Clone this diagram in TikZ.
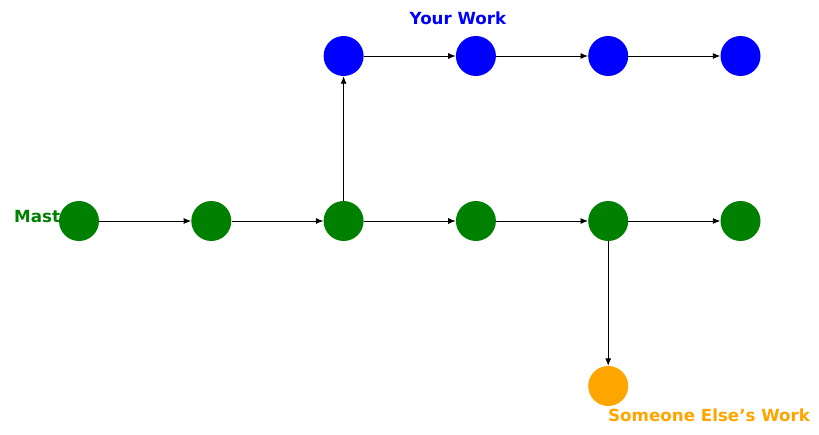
\documentclass[tikz,border=0pt]{standalone}
\usepackage{fontspec}
\setmainfont{DejaVu Sans}
\usetikzlibrary{positioning,arrows.meta}
\definecolor{WorkBlue}{HTML}{0000FF}
\definecolor{MasterGreen}{HTML}{008000}
\definecolor{OtherOrange}{HTML}{FFA500}
\tikzset{
    commit/.style = {circle, minimum size=40pt, inner sep=0pt},
    master/.style = {commit, fill=MasterGreen},
    mine/.style = {commit, fill=WorkBlue},
    theirs/.style = {commit, fill=OtherOrange},
    arrow/.style = {draw, line width=0.9pt, -{Latex[length=7.5pt,width=6pt]}},
    branchlabel/.style = {font=\fontsize{16.7}{20}\selectfont\bfseries, inner sep=0pt}
}

\begin{document}
\begin{tikzpicture}[x=1pt, y=-1pt, on grid, node distance=132.3pt]
    \useasboundingbox (0,0) rectangle (819,434);
    % branch names (behind the commits)
    \node [branchlabel, MasterGreen, anchor=base west] (masterlbl) at (14,222.5) {Master};
    \node [branchlabel, WorkBlue, anchor=base] (minelbl) at (458,24) {Your Work};
    \node [branchlabel, OtherOrange, anchor=base west] (theirslbl) at (608,421) {Someone Else’s Work};
    % master
    \node [master] (m1) at (79,221) {};
    \node [master, right=of m1] (m2) {};
    \node [master, right=of m2] (m3) {};
    \node [master, right=of m3] (m4) {};
    \node [master, right=of m4] (m5) {};
    \node [master, right=of m5] (m6) {};
    % your work
    \node [mine, above=165pt of m3] (w1) {};
    \node [mine, right=of w1] (w2) {};
    \node [mine, right=of w2] (w3) {};
    \node [mine, right=of w3] (w4) {};
    % someone else
    \node [theirs, below=165pt of m5] (o1) {};
    \draw [arrow] (m1) -- (m2);
    \draw [arrow] (m2) -- (m3);
    \draw [arrow] (m3) -- (m4);
    \draw [arrow] (m4) -- (m5);
    \draw [arrow] (m5) -- (m6);
    \draw [arrow] (m3) -- (w1);
    \draw [arrow] (w1) -- (w2);
    \draw [arrow] (w2) -- (w3);
    \draw [arrow] (w3) -- (w4);
    \draw [arrow] (m5) -- (o1);
\end{tikzpicture}
\end{document}
